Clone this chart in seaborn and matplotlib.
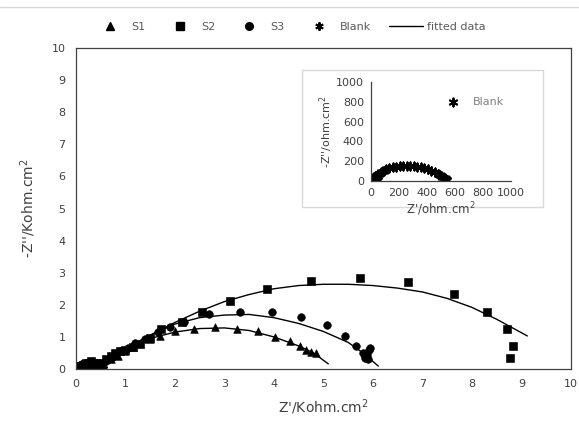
import pandas as pd
import matplotlib
matplotlib.use("Agg")
import matplotlib.pyplot as plt
import seaborn as sns
from matplotlib.lines import Line2D
from matplotlib.patches import Rectangle

# measured data, Z' and -Z'' in kohm.cm2
s1_x = [0.02, 0.05, 0.1, 0.15, 0.2, 0.3, 0.4, 0.5, 0.55, 0.7, 0.85, 1.0, 1.15, 1.3, 1.5, 1.7,
        2.0, 2.39, 2.81, 3.26, 3.68, 4.02, 4.32, 4.52, 4.65, 4.76, 4.86]
s1_y = [0.02, 0.05, 0.08, 0.1, 0.12, 0.1, 0.08, 0.05, 0.1, 0.3, 0.4, 0.55, 0.7, 0.8, 0.95, 1.03,
        1.18, 1.25, 1.32, 1.25, 1.18, 1.0, 0.86, 0.72, 0.6, 0.54, 0.49]

s2_x = [0.05, 0.1, 0.2, 0.3, 0.4, 0.5, 0.6, 0.7, 0.8, 0.9, 1.0, 1.15, 1.29, 1.49, 1.73, 2.15,
        2.55, 3.11, 3.87, 4.75, 5.74, 6.7, 7.64, 8.3, 8.7, 8.84, 8.77]
s2_y = [0.05, 0.1, 0.2, 0.25, 0.2, 0.2, 0.3, 0.4, 0.5, 0.55, 0.6, 0.69, 0.77, 0.96, 1.25, 1.47,
        1.79, 2.13, 2.48, 2.73, 2.83, 2.72, 2.34, 1.79, 1.25, 0.72, 0.33]

s3_x = [0.05, 0.1, 0.2, 0.3, 0.4, 0.5, 0.6, 0.75, 0.9, 1.05, 1.2, 1.4, 1.65, 1.9, 2.18, 2.69,
        3.31, 3.97, 4.55, 5.08, 5.43, 5.66, 5.8, 5.85, 5.88, 5.92, 5.95, 5.85, 5.9]
s3_y = [0.05, 0.1, 0.15, 0.2, 0.18, 0.15, 0.25, 0.4, 0.55, 0.65, 0.8, 0.95, 1.15, 1.3, 1.47, 1.7,
        1.79, 1.79, 1.63, 1.36, 1.04, 0.73, 0.5, 0.35, 0.45, 0.6, 0.65, 0.4, 0.3]

# blank, in ohm.cm2
blank_x = [5, 10, 20, 15, 30, 40, 50, 30, 40, 55, 70, 90, 110, 130, 155, 180, 205, 230, 255, 280,
           305, 330, 355, 380, 405, 430, 455, 475, 495, 510, 525, 535, 540]
blank_y = [5, 15, 5, 25, 10, 5, 15, 50, 60, 75, 90, 105, 118, 128, 138, 145, 150, 152, 153, 152,
           150, 145, 138, 128, 117, 103, 88, 73, 58, 45, 32, 22, 15]

# fitted curves
fit1_x = [0, 0.5, 1.0, 1.5, 2.0, 2.5, 3.0, 3.5, 4.0, 4.5, 4.8, 5.1]
fit1_y = [0, 0.2, 0.6, 0.95, 1.15, 1.26, 1.28, 1.2, 1.0, 0.72, 0.5, 0.16]
fit2_x = [0, 0.5, 1.0, 1.5, 2.0, 2.5, 3.0, 3.5, 4.0, 4.5, 5.0, 5.5, 6.0, 6.5, 7.0, 7.5, 8.0, 8.5, 9.12]
fit2_y = [0, 0.2, 0.6, 1.05, 1.45, 1.8, 2.1, 2.32, 2.5, 2.6, 2.64, 2.64, 2.6, 2.52, 2.4, 2.2, 1.92, 1.55, 1.03]
fit3_x = [0, 0.5, 1.0, 1.5, 2.0, 2.5, 3.0, 3.5, 4.0, 4.5, 5.0, 5.5, 5.8, 6.11]
fit3_y = [0, 0.2, 0.6, 1.05, 1.4, 1.6, 1.68, 1.7, 1.6, 1.42, 1.17, 0.83, 0.5, 0.09]

sns.set_theme(style="white")
plt.rcParams['font.family'] = ['DejaVu Sans']
gray = '#404040'
txt = '#404040'

fig = plt.figure(figsize=(5.79, 4.21), dpi=100)
ax = fig.add_axes([0.131, 0.1235, 0.855, 0.7625])

ms = 30
star = (6, 2, 0)
sns.scatterplot(x=s1_x, y=s1_y, marker='^', s=ms, color='black', edgecolor='black', ax=ax)
sns.scatterplot(x=s2_x, y=s2_y, marker='s', s=ms, color='black', edgecolor='black', ax=ax)
sns.scatterplot(x=s3_x, y=s3_y, marker='o', s=ms, color='black', edgecolor='black', ax=ax)
blank_k = pd.DataFrame({'x': [v / 1000 for v in blank_x], 'y': [v / 1000 for v in blank_y]})
sns.scatterplot(data=blank_k, x='x', y='y', marker=star, s=34, color='black', linewidth=1.4, ax=ax)
for fx, fy in [(fit1_x, fit1_y), (fit2_x, fit2_y), (fit3_x, fit3_y)]:
    sns.lineplot(x=fx, y=fy, color='black', lw=1.0, estimator=None, sort=False, ax=ax)

ax.set_xlim(0, 10)
ax.set_ylim(0, 10)
ax.set_xticks(range(0, 11))
ax.set_yticks(range(0, 11))
for sp in ax.spines.values():
    sp.set_color(gray)
    sp.set_linewidth(0.9)
ax.tick_params(direction='out', length=4, width=0.8, color=gray, labelsize=8, labelcolor=txt)
ax.set_xlabel("Z'/Kohm.cm$^2$", fontsize=10, color=txt, labelpad=6)
ax.set_ylabel("-Z''/Kohm.cm$^2$", fontsize=10, color=txt, labelpad=10)

# inset
fig.patches.append(Rectangle((302 / 579, 1 - 207 / 421), (543 - 302) / 579, (207 - 70) / 421,
                             transform=fig.transFigure, fill=True, facecolor='white',
                             edgecolor='#d9d9d9', lw=1.0, zorder=2))
axi = fig.add_axes([371 / 579, 1 - 181 / 421, 140 / 579, 99 / 421], zorder=3)
axi.set_facecolor('white')
sns.scatterplot(x=blank_x, y=blank_y, marker=star, s=34, color='black', linewidth=1.4,
                ax=axi, label='Blank')
axi.set_xlim(0, 1000)
axi.set_ylim(0, 1000)
axi.set_xticks(range(0, 1001, 200))
axi.set_yticks(range(0, 1001, 200))
axi.spines['top'].set_visible(False)
axi.spines['right'].set_visible(False)
for sp in ['left', 'bottom']:
    axi.spines[sp].set_color(gray)
    axi.spines[sp].set_linewidth(0.9)
axi.tick_params(direction='out', length=3, width=0.8, color=gray, labelsize=8, labelcolor=txt, pad=2)
axi.set_xlabel("Z'/ohm.cm$^2$", fontsize=8.5, color=txt, labelpad=2)
axi.set_ylabel("-Z''/ohm.cm$^2$", fontsize=8, color=txt, labelpad=1)
axi.legend(loc='upper right', bbox_to_anchor=(1.02, 0.95), frameon=False, fontsize=8,
           labelcolor='#808080', handletextpad=0.8)

# top legend and chart border
fig.add_artist(Line2D([0.0, 1.0], [1 - 7 / 421, 1 - 7 / 421], transform=fig.transFigure,
                      color='#d9d9d9', lw=1.0))
handles = [
    Line2D([], [], ls='none', marker='^', ms=5.5, color='black'),
    Line2D([], [], ls='none', marker='s', ms=5.5, color='black'),
    Line2D([], [], ls='none', marker='o', ms=5.5, color='black'),
    Line2D([], [], ls='none', marker=star, ms=6, mew=1.4, color='black'),
    Line2D([], [], color='black', lw=1.0),
]
fig.legend(handles, ['S1', 'S2', 'S3', 'Blank', 'fitted data'], loc='center',
           bbox_to_anchor=(0.5, 1 - 27 / 421), ncol=5, frameon=False, fontsize=8,
           labelcolor='#595959', columnspacing=1.6, handletextpad=0.4, handlelength=3.0)

fig.savefig('out.png', dpi=100)
